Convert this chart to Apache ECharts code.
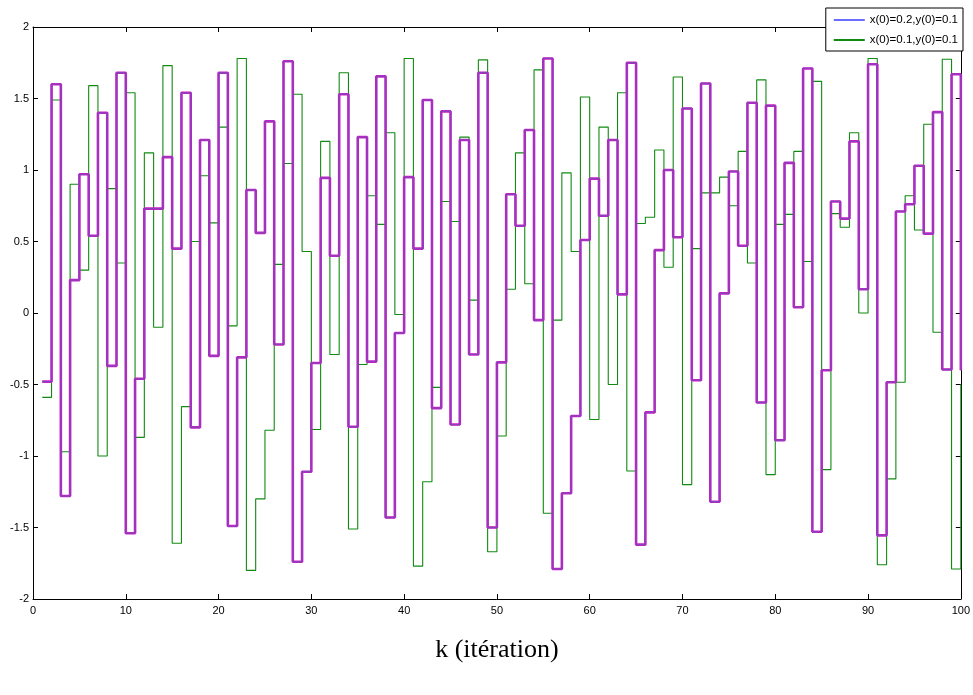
<!DOCTYPE html>
<html>
<head>
<meta charset="utf-8">
<script src="https://cdn.jsdelivr.net/npm/echarts@6/dist/echarts.min.js"></script>
<style>
html,body{margin:0;padding:0;background:#fff;}
#chart{width:973px;height:695px;}
</style>
</head>
<body>
<div id="chart"></div>
<script>
const iterations = [1,2,3,4,5,6,7,8,9,10,11,12,13,14,15,16,17,18,19,20,
  21,22,23,24,25,26,27,28,29,30,31,32,33,34,35,36,37,38,39,40,
  41,42,43,44,45,46,47,48,49,50,51,52,53,54,55,56,57,58,59,60,
  61,62,63,64,65,66,67,68,69,70,71,72,73,74,75,76,77,78,79,80,
  81,82,83,84,85,86,87,88,89,90,91,92,93,94,95,96,97,98,99,100];

const seriesA = [-0.48,1.60,-1.28,0.23,0.97,0.54,1.40,-0.37,1.68,-1.54,
  -0.46,0.73,0.73,1.09,0.45,1.54,-0.80,1.21,-0.30,1.68,
  -1.49,-0.31,0.86,0.56,1.34,-0.22,1.76,-1.74,-1.11,-0.35,
  0.945,0.40,1.53,-0.795,1.23,-0.34,1.655,-1.43,-0.14,0.95,
  0.45,1.49,-0.665,1.41,-0.78,1.21,-0.29,1.68,-1.50,-0.345,
  0.83,0.61,1.28,-0.05,1.78,-1.79,-1.26,-0.72,0.51,0.94,
  0.68,1.21,0.13,1.75,-1.62,-0.695,0.44,1.00,0.53,1.43,
  -0.47,1.605,-1.32,0.137,0.99,0.47,1.47,-0.626,1.45,-0.89,
  1.05,0.04,1.71,-1.53,-0.40,0.78,0.66,1.20,0.166,1.74,
  -1.555,-0.484,0.71,0.76,1.03,0.555,1.405,-0.395,1.67,-0.40];

const seriesB = [-0.59,1.49,-0.97,0.90,0.30,1.59,-1.00,0.87,0.35,1.54,
  -0.87,1.12,-0.10,1.73,-1.61,-0.655,0.50,0.96,0.63,1.30,
  -0.09,1.78,-1.80,-1.30,-0.82,0.34,1.045,1.53,0.43,-0.815,
  1.20,-0.29,1.68,-1.51,-0.36,0.82,0.62,1.26,-0.01,1.78,
  -1.77,-1.18,-0.52,0.78,0.64,1.23,0.09,1.77,-1.67,-0.86,
  0.166,1.12,0.205,1.70,-1.40,-0.05,0.98,0.43,1.51,-0.745,
  1.30,-0.50,1.54,-1.105,0.626,0.67,1.14,0.32,1.65,-1.20,
  0.45,0.84,0.84,0.95,0.75,1.13,0.35,1.63,-1.13,0.62,
  0.69,1.13,0.36,1.62,-1.095,0.695,0.60,1.26,0.0,1.78,
  -1.76,-1.16,-0.484,0.82,0.58,1.32,-0.135,1.775,-1.79,-0.50];

const nameA = 'x(0)=0.2,y(0)=0.1';
const nameB = 'x(0)=0.1,y(0)=0.1';
const xTitle = 'k (itération)';

const pairs = (vals) => iterations.map((k, i) => [k, vals[i]]);

const font = 'Liberation Sans, Arial, sans-serif';
const axisCommon = {
  axisLine: {show: true, onZero: false, lineStyle: {color: '#000', width: 1}},
  axisTick: {show: true, inside: true, length: 5, lineStyle: {color: '#000'}},
  splitLine: {show: false}
};

const chart = echarts.init(document.getElementById('chart'), null, {renderer: 'canvas'});
chart.setOption({
  animation: false,
  backgroundColor: '#fff',
  grid: {left: 33, right: 10, top: 27, bottom: 96, containLabel: false},
  legend: {
    data: [
      {name: nameA, icon: 'rect', itemStyle: {color: '#6b6bff'}},
      {name: nameB, icon: 'rect', itemStyle: {color: '#118a11'}}
    ],
    orient: 'vertical',
    right: 10, top: 8,
    backgroundColor: '#fff',
    borderColor: '#000',
    borderWidth: 1,
    borderRadius: 0,
    padding: [6, 5, 5, 8],
    itemGap: 8,
    itemWidth: 31,
    itemHeight: 2,
    textStyle: {fontFamily: font, fontSize: 11.5, color: '#000'}
  },
  xAxis: [
    Object.assign({}, axisCommon, {
      type: 'value', min: 0, max: 100, interval: 10, position: 'bottom',
      axisLabel: {color: '#000', fontFamily: font, fontSize: 11, margin: 6},
      name: xTitle, nameLocation: 'middle', nameGap: 38,
      nameTextStyle: {fontFamily: 'Liberation Serif, Times New Roman, serif', fontSize: 26, color: '#000'}
    }),
    Object.assign({}, axisCommon, {
      type: 'value', min: 0, max: 100, interval: 10, position: 'top',
      axisLabel: {show: false}
    })
  ],
  yAxis: [
    Object.assign({}, axisCommon, {
      type: 'value', min: -2, max: 2, interval: 0.5, position: 'left',
      axisLabel: {color: '#000', fontFamily: font, fontSize: 11, margin: 4}
    }),
    Object.assign({}, axisCommon, {
      type: 'value', min: -2, max: 2, interval: 0.5, position: 'right',
      axisLabel: {show: false}
    })
  ],
  series: [
    {
      name: nameB, type: 'line', step: 'end', data: pairs(seriesB),
      showSymbol: false, symbol: 'none', clip: true,
      lineStyle: {color: '#118a11', width: 1.1},
      itemStyle: {color: '#118a11'}, z: 2
    },
    {
      name: nameA, type: 'line', step: 'end', data: pairs(seriesA),
      showSymbol: false, symbol: 'none', clip: true,
      lineStyle: {color: '#c81ec8', width: 2.6},
      itemStyle: {color: '#6b6bff'}, z: 3
    },
    {
      name: 'overlay', type: 'line', step: 'end', data: pairs(seriesA),
      showSymbol: false, symbol: 'none', clip: true,
      lineStyle: {color: '#8a40b8', width: 1.3},
      itemStyle: {color: '#8a40b8'}, z: 4
    }
  ]
});
</script>
</body>
</html>
